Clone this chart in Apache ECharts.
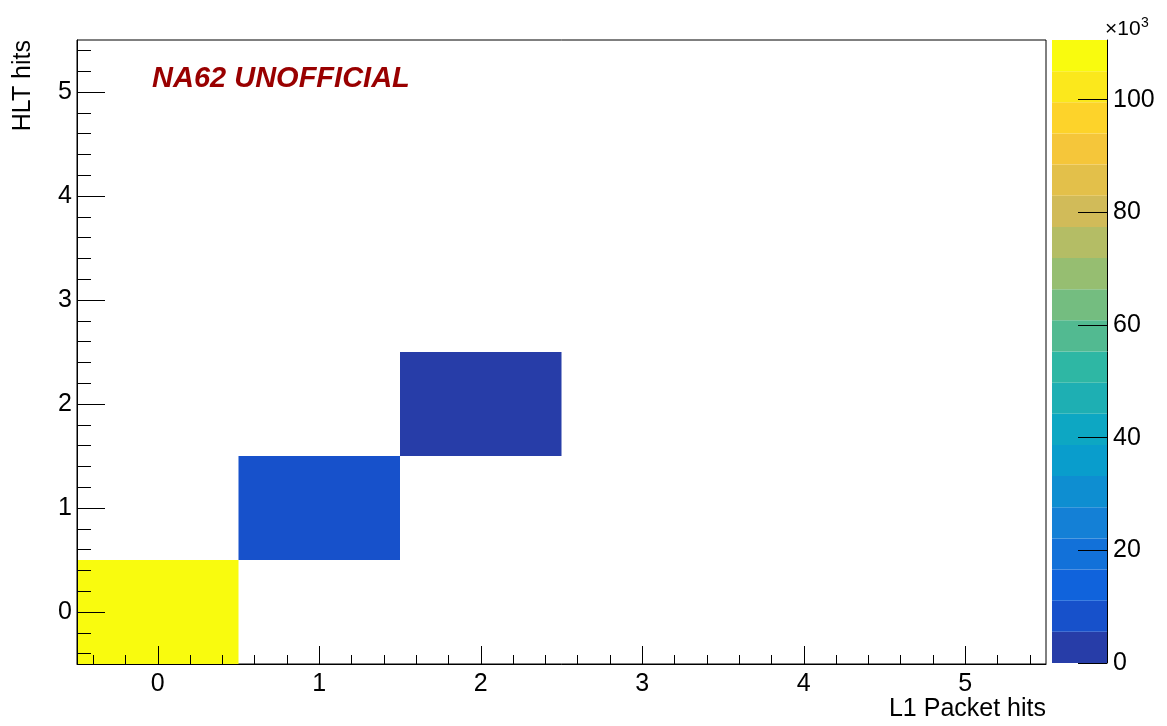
<!DOCTYPE html>
<html>
<head>
<meta charset="utf-8">
<title>HLT hits vs L1 Packet hits</title>
<script src="https://cdn.jsdelivr.net/npm/echarts@6/dist/echarts.min.js"></script>
<style>
  html, body { margin: 0; padding: 0; background: #fff; }
  #chart { width: 1167px; height: 726px; }
</style>
</head>
<body>
<div id="chart"></div>
<script>
// Filled bins of the 2D histogram (bin centres and entries)
const xBins = [0, 1, 2];
const yBins = [0, 1, 2];
const counts = [110600, 8700, 2900];

// Axis tick labels
const xTickLabels = [0, 1, 2, 3, 4, 5];
const yTickLabels = [0, 1, 2, 3, 4, 5];
const zTickLabels = [0, 20, 40, 60, 80, 100]; // in units of 10^3

// Axis range (bin edges)
const axisMin = -0.5;
const axisMax = 5.5;
const nContours = 20;

// kBird palette stops
const birdStops = [0.0000, 0.1250, 0.2500, 0.3750, 0.5000, 0.6250, 0.7500, 0.8750, 1.0000];
const birdR = [0.2082, 0.0592, 0.0780, 0.0232, 0.1802, 0.5301, 0.8186, 0.9956, 0.9764];
const birdG = [0.1664, 0.3599, 0.5041, 0.6419, 0.7178, 0.7492, 0.7328, 0.7862, 0.9832];
const birdB = [0.5293, 0.8684, 0.8385, 0.7914, 0.6425, 0.4662, 0.3499, 0.1968, 0.0539];

function birdColor(t) {
  let k = 0;
  while (k < birdStops.length - 2 && t > birdStops[k + 1]) k++;
  const f = (t - birdStops[k]) / (birdStops[k + 1] - birdStops[k]);
  const c = (arr) => Math.round(255 * (arr[k] + (arr[k + 1] - arr[k]) * f));
  return 'rgb(' + c(birdR) + ',' + c(birdG) + ',' + c(birdB) + ')';
}

// One colour per contour band, sampled from a 255-colour palette
const bandColors = [];
for (let i = 0; i < nContours; i++) {
  const idx = Math.floor((i + 0.99) * 255 / nContours);
  bandColors.push(birdColor(Math.min(idx, 254) / 254));
}

const zMax = Math.max.apply(null, counts);
const zStep = zMax / nContours;

function bandOf(v) {
  return Math.max(0, Math.min(nContours - 1, Math.floor(v / zStep)));
}

// Minor tick positions every 0.2
function minorTicks() {
  const out = [];
  for (let k = -2; k <= 27; k++) out.push(Math.round(k * 20) / 100);
  return out;
}
const minorVals = minorTicks();

const cellData = xBins.map((x, i) => [x, yBins[i], counts[i]]);
const bandData = bandColors.map((c, i) => [i]);

const font = 'Liberation Sans, Arial, Helvetica, sans-serif';
const black = '#000';
const labelSize = 25;

const chart = echarts.init(document.getElementById('chart'), null, { renderer: 'canvas' });

chart.setOption({
  animation: false,
  backgroundColor: '#fff',
  grid: [
    { left: 77, right: 121, top: 40, bottom: 62, show: true, borderColor: black, borderWidth: 1, backgroundColor: 'transparent' },
    { left: 1052, width: 55, top: 40, bottom: 63, show: false }
  ],
  xAxis: [
    {
      gridIndex: 0, type: 'value', min: axisMin, max: axisMax, z: 10,
      axisLine: { show: true, onZero: false, lineStyle: { color: black, width: 1 } },
      axisTick: { show: true, inside: true, length: 9, customValues: minorVals, lineStyle: { color: black } },
      axisLabel: { show: false },
      splitLine: { show: false }
    },
    {
      gridIndex: 0, type: 'value', min: axisMin, max: axisMax, position: 'bottom', z: 10,
      axisLine: { show: false, onZero: false },
      axisTick: { show: true, inside: true, length: 18, customValues: xTickLabels, lineStyle: { color: black } },
      axisLabel: { show: true, customValues: xTickLabels, margin: 8, color: black, fontSize: labelSize, fontFamily: font },
      splitLine: { show: false }
    },
    {
      gridIndex: 1, type: 'value', min: 0, max: 1, show: false
    }
  ],
  yAxis: [
    {
      gridIndex: 0, type: 'value', min: axisMin, max: axisMax, z: 10,
      axisLine: { show: true, onZero: false, lineStyle: { color: black, width: 1 } },
      axisTick: { show: true, inside: true, length: 14, customValues: minorVals, lineStyle: { color: black } },
      axisLabel: { show: false },
      splitLine: { show: false }
    },
    {
      gridIndex: 0, type: 'value', min: axisMin, max: axisMax, position: 'left', z: 10,
      axisLine: { show: false, onZero: false },
      axisTick: { show: true, inside: true, length: 28, customValues: yTickLabels, lineStyle: { color: black } },
      axisLabel: { show: true, customValues: yTickLabels, margin: 5, color: black, fontSize: labelSize, fontFamily: font },
      splitLine: { show: false }
    },
    {
      gridIndex: 1, type: 'value', min: 0, max: zMax, position: 'right', z: 10,
      axisLine: { show: true, onZero: false, lineStyle: { color: black, width: 1 } },
      axisTick: { show: true, inside: true, length: 29, customValues: zTickLabels.map(v => v * 1000), lineStyle: { color: black } },
      axisLabel: {
        show: true, customValues: zTickLabels.map(v => v * 1000), margin: 6,
        color: black, fontSize: labelSize, fontFamily: font,
        formatter: (v) => String(Math.round(v / 1000))
      },
      splitLine: { show: false }
    }
  ],
  series: [
    {
      type: 'custom',
      name: 'cells',
      xAxisIndex: 0, yAxisIndex: 0,
      encode: { x: 0, y: 1 },
      data: cellData,
      renderItem: function (params, api) {
        const x = api.value(0), y = api.value(1), v = api.value(2);
        const p0 = api.coord([x - 0.5, y + 0.5]);
        const p1 = api.coord([x + 0.5, y - 0.5]);
        return {
          type: 'rect',
          shape: { x: p0[0], y: p0[1], width: p1[0] - p0[0], height: p1[1] - p0[1] },
          style: { fill: bandColors[bandOf(v)] }
        };
      }
    },
    {
      type: 'custom',
      name: 'palette',
      xAxisIndex: 2, yAxisIndex: 2,
      encode: { y: 0 },
      data: bandData,
      renderItem: function (params, api) {
        const i = api.value(0);
        const p0 = api.coord([0, (i + 1) * zStep]);
        const p1 = api.coord([1, i * zStep]);
        return {
          type: 'rect',
          shape: { x: p0[0], y: p0[1], width: p1[0] - p0[0], height: p1[1] - p0[1] },
          style: { fill: bandColors[i] }
        };
      }
    }
  ],
  graphic: [
    {
      type: 'text', x: 152, y: 78.5,
      style: { text: 'NA62 UNOFFICIAL', fill: '#990000', font: 'italic bold 29px ' + font, verticalAlign: 'middle', align: 'left' }
    },
    {
      type: 'text', x: 1046, y: 709.5,
      style: { text: 'L1 Packet hits', fill: black, font: labelSize + 'px ' + font, align: 'right', verticalAlign: 'middle' }
    },
    {
      type: 'text', x: 23, y: 40, rotation: Math.PI / 2,
      style: { text: 'HLT hits', fill: black, font: labelSize + 'px ' + font, align: 'right', verticalAlign: 'middle' }
    },
    {
      type: 'text', x: 1105, y: 29.5,
      style: { text: '×10', fill: black, font: '21px ' + font, align: 'left', verticalAlign: 'middle' }
    },
    {
      type: 'text', x: 1141, y: 23,
      style: { text: '3', fill: black, font: '14px ' + font, align: 'left', verticalAlign: 'middle' }
    }
  ]
});
</script>
</body>
</html>
